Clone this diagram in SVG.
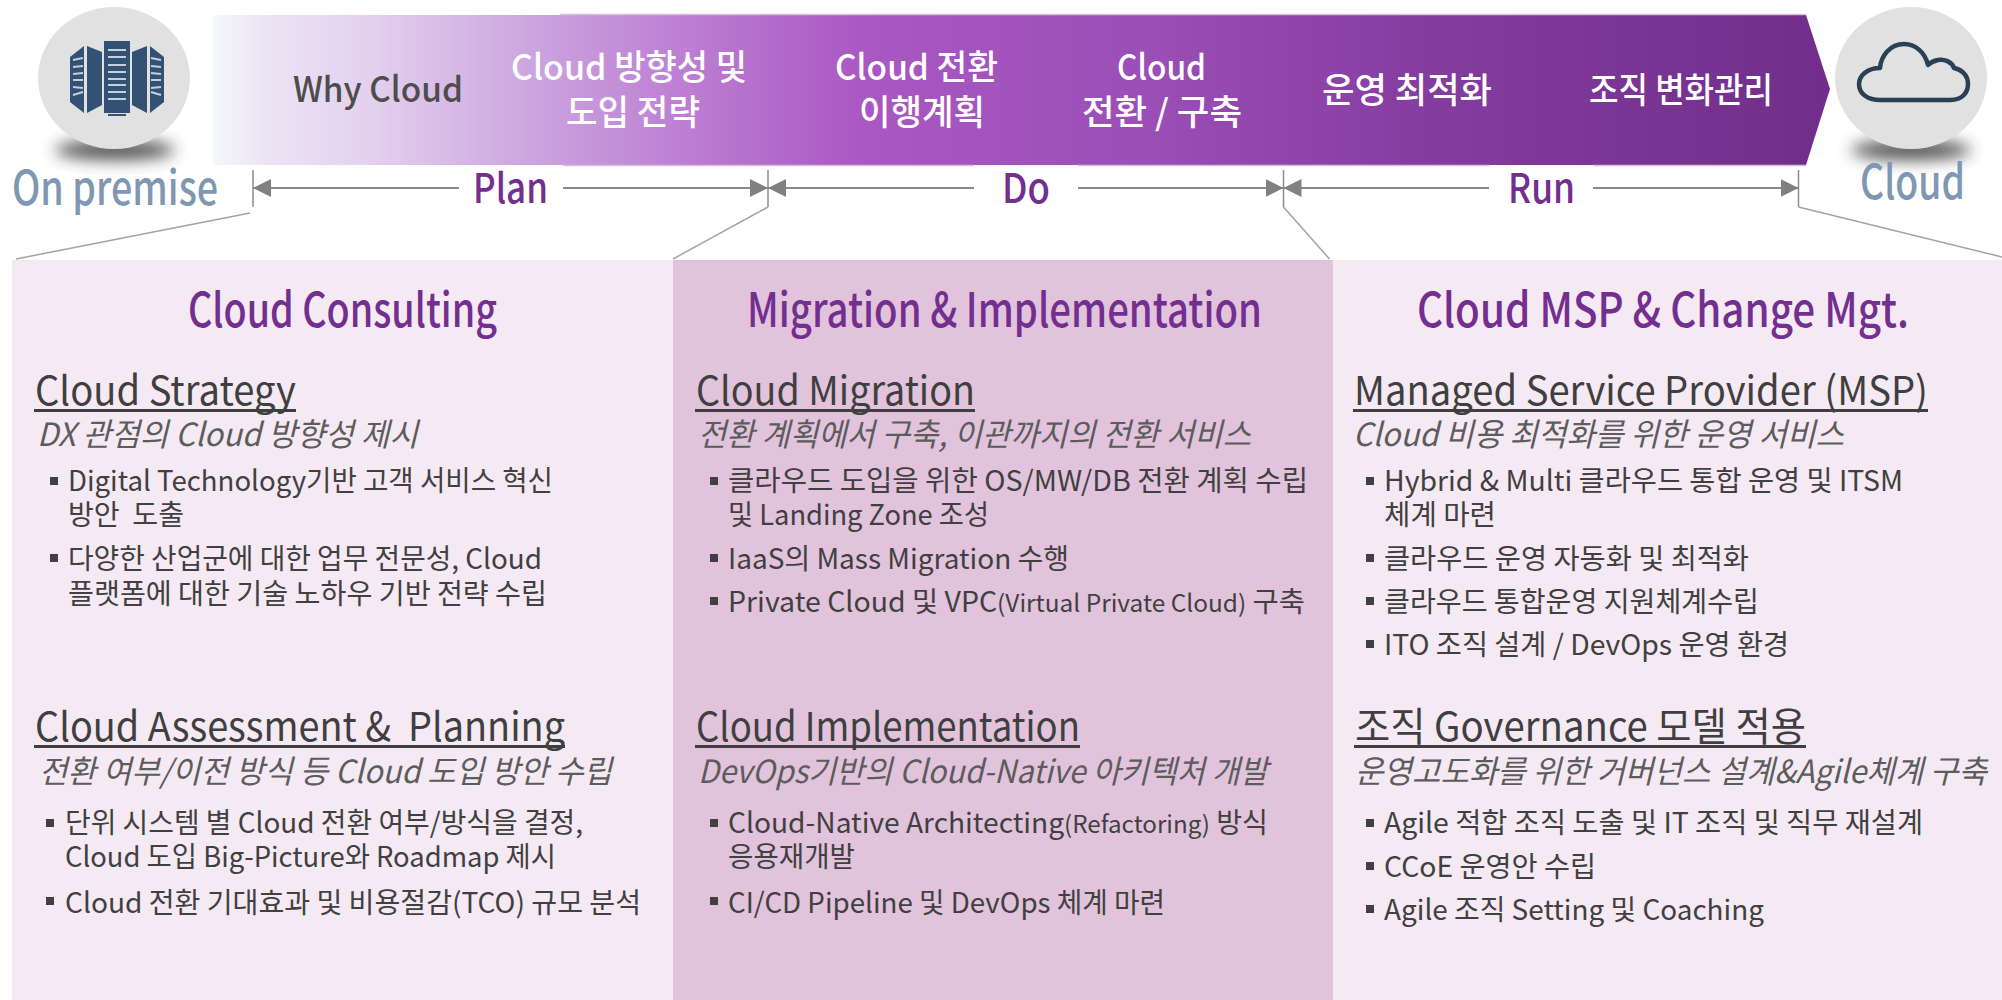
<svg xmlns="http://www.w3.org/2000/svg" width="2002" height="1000" viewBox="0 0 2002 1000">
<style>
text{font-family:"Noto Sans CJK KR","Noto Sans",sans-serif;white-space:pre}
.banner{font-size:35px;fill:#fff;font-weight:500}
.phase{font-size:41px;fill:#722f8f;font-weight:500}
.side{font-size:47px;fill:#7f97b3;font-weight:500}
.title{font-size:47px;fill:#722f8f;font-weight:500}
.head{font-size:40px;fill:#3f3f3f}
.sub{font-size:32px;fill:#5c5c5c;font-style:italic}
.item{font-size:28px;fill:#404040}
.small{font-size:24px}
.ul{fill:#3f3f3f}
.sq{fill:#404040}
.conn{stroke:#a3a3a3;stroke-width:1.5;fill:none}
.dim{stroke:#8a8a8a;stroke-width:2;fill:none}
.tick{stroke:#8c8c8c;stroke-width:1.5;fill:none}
.edge{stroke:#d9bfdf;stroke-width:1.5;fill:none}
.disc{fill:#e1e1e1}
.rack{fill:#335273}
.slat{stroke:#c5d0dc;stroke-width:2;fill:none}
.shadow{fill:#333;opacity:.85}
</style>
<defs>
<linearGradient id="bannerGrad" gradientUnits="userSpaceOnUse" x1="213" y1="0" x2="1830" y2="0">
<stop offset="0" stop-color="#f4f8fc"/>
<stop offset="0.03" stop-color="#ece5f5"/>
<stop offset="0.1" stop-color="#e3cfee"/>
<stop offset="0.2" stop-color="#cba3de"/>
<stop offset="0.3" stop-color="#bb7bd2"/>
<stop offset="0.4" stop-color="#aa58c3"/>
<stop offset="0.58" stop-color="#9a4eb6"/>
<stop offset="0.75" stop-color="#853c9f"/>
<stop offset="1" stop-color="#702e8a"/>
</linearGradient>
<filter id="blur" x="-30%" y="-150%" width="160%" height="400%"><feGaussianBlur stdDeviation="8"/></filter>
<marker id="arr" viewBox="0 0 18 18" refX="18" refY="9" markerWidth="18" markerHeight="18" markerUnits="userSpaceOnUse" orient="auto-start-reverse"><path d="M0 0L18 9L0 18Z" fill="#808080"/></marker>
</defs>
<rect width="2002" height="1000" fill="#fff"/>

<g id="panel-consulting">
<rect x="12" y="260" width="661" height="740" fill="#f5e9f3"/>
<text class="title" x="188" y="327" textLength="309" lengthAdjust="spacingAndGlyphs">Cloud Consulting</text>
<text class="head" x="35" y="405" textLength="261" lengthAdjust="spacingAndGlyphs">Cloud Strategy</text>
<rect class="ul" x="34" y="409" width="262" height="3"/>
<text class="sub" x="37" y="446" textLength="381" lengthAdjust="spacingAndGlyphs">DX 관점의 Cloud 방향성 제시</text>
<rect class="sq" x="50" y="477" width="8" height="8"/>
<text class="item" x="68" y="491" textLength="485" lengthAdjust="spacingAndGlyphs">Digital Technology기반 고객 서비스 혁신</text>
<text class="item" x="68" y="525" textLength="116" lengthAdjust="spacingAndGlyphs">방안  도출</text>
<rect class="sq" x="50" y="554" width="8" height="8"/>
<text class="item" x="68" y="569" textLength="474" lengthAdjust="spacingAndGlyphs">다양한 산업군에 대한 업무 전문성, Cloud</text>
<text class="item" x="68" y="604" textLength="479" lengthAdjust="spacingAndGlyphs">플랫폼에 대한 기술 노하우 기반 전략 수립</text>
<text class="head" x="35" y="741" textLength="530" lengthAdjust="spacingAndGlyphs">Cloud Assessment &amp;  Planning</text>
<rect class="ul" x="34" y="745" width="531" height="3"/>
<text class="sub" x="39" y="783" textLength="573" lengthAdjust="spacingAndGlyphs">전환 여부/이전 방식 등 Cloud 도입 방안 수립</text>
<rect class="sq" x="46" y="819" width="8" height="8"/>
<text class="item" x="65" y="833" textLength="518" lengthAdjust="spacingAndGlyphs">단위 시스템 별 Cloud 전환 여부/방식을 결정,</text>
<text class="item" x="65" y="867" textLength="491" lengthAdjust="spacingAndGlyphs">Cloud 도입 Big-Picture와 Roadmap 제시</text>
<rect class="sq" x="46" y="897" width="8" height="8"/>
<text class="item" x="65" y="913" textLength="576" lengthAdjust="spacingAndGlyphs">Cloud 전환 기대효과 및 비용절감(TCO) 규모 분석</text>
</g>

<g id="panel-migration">
<rect x="673" y="260" width="660" height="740" fill="#e2c3dc"/>
<text class="title" x="747" y="327" textLength="515" lengthAdjust="spacingAndGlyphs">Migration &amp; Implementation</text>
<text class="head" x="696" y="405" textLength="279" lengthAdjust="spacingAndGlyphs">Cloud Migration</text>
<rect class="ul" x="695" y="409" width="280" height="3"/>
<text class="sub" x="698" y="446" textLength="553" lengthAdjust="spacingAndGlyphs">전환 계획에서 구축, 이관까지의 전환 서비스</text>
<rect class="sq" x="710" y="477" width="8" height="8"/>
<text class="item" x="728" y="491" textLength="580" lengthAdjust="spacingAndGlyphs">클라우드 도입을 위한 OS/MW/DB 전환 계획 수립</text>
<text class="item" x="728" y="525" textLength="261" lengthAdjust="spacingAndGlyphs">및 Landing Zone 조성</text>
<rect class="sq" x="710" y="554" width="8" height="8"/>
<text class="item" x="728" y="569" textLength="341" lengthAdjust="spacingAndGlyphs">IaaS의 Mass Migration 수행</text>
<rect class="sq" x="710" y="597" width="8" height="8"/>
<text class="item" x="728" y="612" textLength="577" lengthAdjust="spacingAndGlyphs">Private Cloud 및 VPC<tspan class="small">(Virtual Private Cloud)</tspan> 구축</text>
<text class="head" x="696" y="741" textLength="384" lengthAdjust="spacingAndGlyphs">Cloud Implementation</text>
<rect class="ul" x="695" y="745" width="385" height="3"/>
<text class="sub" x="698" y="783" textLength="570" lengthAdjust="spacingAndGlyphs">DevOps기반의 Cloud-Native 아키텍처 개발</text>
<rect class="sq" x="710" y="819" width="8" height="8"/>
<text class="item" x="728" y="833" textLength="540" lengthAdjust="spacingAndGlyphs">Cloud-Native Architecting<tspan class="small">(Refactoring)</tspan> 방식</text>
<text class="item" x="728" y="867" textLength="127" lengthAdjust="spacingAndGlyphs">응용재개발</text>
<rect class="sq" x="710" y="897" width="8" height="8"/>
<text class="item" x="728" y="913" textLength="437" lengthAdjust="spacingAndGlyphs">CI/CD Pipeline 및 DevOps 체계 마련</text>
</g>

<g id="panel-msp">
<rect x="1333" y="260" width="669" height="740" fill="#f5e9f3"/>
<text class="title" x="1417" y="327" textLength="492" lengthAdjust="spacingAndGlyphs">Cloud MSP &amp; Change Mgt.</text>
<text class="head" x="1354" y="405" textLength="574" lengthAdjust="spacingAndGlyphs">Managed Service Provider (MSP)</text>
<rect class="ul" x="1353" y="409" width="575" height="3"/>
<text class="sub" x="1353" y="446" textLength="491" lengthAdjust="spacingAndGlyphs">Cloud 비용 최적화를 위한 운영 서비스</text>
<rect class="sq" x="1366" y="477" width="8" height="8"/>
<text class="item" x="1384" y="491" textLength="519" lengthAdjust="spacingAndGlyphs">Hybrid &amp; Multi 클라우드 통합 운영 및 ITSM</text>
<text class="item" x="1384" y="525" textLength="112" lengthAdjust="spacingAndGlyphs">체계 마련</text>
<rect class="sq" x="1366" y="554" width="8" height="8"/>
<text class="item" x="1384" y="569" textLength="365" lengthAdjust="spacingAndGlyphs">클라우드 운영 자동화 및 최적화</text>
<rect class="sq" x="1366" y="597" width="8" height="8"/>
<text class="item" x="1384" y="612" textLength="375" lengthAdjust="spacingAndGlyphs">클라우드 통합운영 지원체계수립</text>
<rect class="sq" x="1366" y="640" width="8" height="8"/>
<text class="item" x="1384" y="655" textLength="405" lengthAdjust="spacingAndGlyphs">ITO 조직 설계 / DevOps 운영 환경</text>
<text class="head" x="1355" y="741" textLength="451" lengthAdjust="spacingAndGlyphs">조직 Governance 모델 적용</text>
<rect class="ul" x="1354" y="745" width="452" height="3"/>
<text class="sub" x="1355" y="783" textLength="632" lengthAdjust="spacingAndGlyphs">운영고도화를 위한 거버넌스 설계&amp;Agile체계 구축</text>
<rect class="sq" x="1366" y="819" width="8" height="8"/>
<text class="item" x="1384" y="833" textLength="539" lengthAdjust="spacingAndGlyphs">Agile 적합 조직 도출 및 IT 조직 및 직무 재설계</text>
<rect class="sq" x="1366" y="862" width="8" height="8"/>
<text class="item" x="1384" y="877" textLength="212" lengthAdjust="spacingAndGlyphs">CCoE 운영안 수립</text>
<rect class="sq" x="1366" y="905" width="8" height="8"/>
<text class="item" x="1384" y="920" textLength="380" lengthAdjust="spacingAndGlyphs">Agile 조직 Setting 및 Coaching</text>
</g>

<g id="banner">
<path d="M213 15H1806L1830 89L1806 165H213Z" fill="url(#bannerGrad)"/>
<path class="edge" d="M560 14.500H1806M563 165.500H974M1078 165.500H1489M1593 165.500H1806"/>
<text class="banner" x="293" y="102" textLength="170" lengthAdjust="spacingAndGlyphs" style="fill:#4d4d4d">Why Cloud</text>
<text class="banner" x="511" y="80" textLength="236" lengthAdjust="spacingAndGlyphs">Cloud 방향성 및</text>
<text class="banner" x="566" y="125" textLength="134" lengthAdjust="spacingAndGlyphs">도입 전략</text>
<text class="banner" x="835" y="80" textLength="163" lengthAdjust="spacingAndGlyphs">Cloud 전환</text>
<text class="banner" x="859" y="125" textLength="126" lengthAdjust="spacingAndGlyphs">이행계획</text>
<text class="banner" x="1117" y="80" textLength="89" lengthAdjust="spacingAndGlyphs">Cloud</text>
<text class="banner" x="1082" y="125" textLength="160" lengthAdjust="spacingAndGlyphs">전환 / 구축</text>
<text class="banner" x="1322" y="103" textLength="170" lengthAdjust="spacingAndGlyphs">운영 최적화</text>
<text class="banner" x="1589" y="103" textLength="184" lengthAdjust="spacingAndGlyphs">조직 변화관리</text>
</g>

<g id="connectors">
<path class="tick" d="M253 170V207M768 170V207M1283.500 170V207M1798.500 170V207"/>
<path class="conn" d="M250 213L16 259"/>
<path class="conn" d="M768 207L673 259"/>
<path class="conn" d="M1283.500 207L1329.500 259"/>
<path class="conn" d="M1798.500 207L2002 257"/>
<path class="dim" d="M459 188H253" marker-end="url(#arr)"/>
<path class="dim" d="M563 188H768" marker-end="url(#arr)"/>
<path class="dim" d="M974 188H768" marker-end="url(#arr)"/>
<path class="dim" d="M1078 188H1283.500" marker-end="url(#arr)"/>
<path class="dim" d="M1489 188H1283.500" marker-end="url(#arr)"/>
<path class="dim" d="M1593 188H1798.500" marker-end="url(#arr)"/>
</g>

<g id="phase-plan"><text class="phase" x="473" y="203" textLength="75" lengthAdjust="spacingAndGlyphs">Plan</text></g>
<g id="phase-do"><text class="phase" x="1002" y="203" textLength="48" lengthAdjust="spacingAndGlyphs">Do</text></g>
<g id="phase-run"><text class="phase" x="1508" y="203" textLength="67" lengthAdjust="spacingAndGlyphs">Run</text></g>

<g id="node-on-premise">
<ellipse class="shadow" cx="115" cy="150" rx="60" ry="10" filter="url(#blur)"/>
<ellipse class="disc" cx="114" cy="78" rx="76" ry="71"/>
<path class="rack" d="M104 41H130V113H104ZM70 57L84 46V113L70 102ZM87 46L102 52V105L87 113ZM132 52L147 46V113L132 105ZM150 46L164 57V102L150 113Z"/>
<path class="rack" d="M108 114H126V116H108Z"/>
<path class="slat" d="M108 50H126M108 57H126M108 65H126M108 72H126M108 79H126M108 85H126M108 92H126M108 99H126"/>
<path class="slat" d="M73 60L83 58M73 67L83 66M73 74L83 73M73 80L83 80M73 87L83 88M73 95L83 92M151 58L161 60M151 66L161 67M151 73L161 74M151 80L161 80M151 88L161 87M151 92L161 95"/>
<text class="side" x="12" y="205" textLength="206" lengthAdjust="spacingAndGlyphs">On premise</text>
</g>

<g id="node-cloud">
<ellipse class="shadow" cx="1911" cy="150" rx="60" ry="10" filter="url(#blur)"/>
<ellipse class="disc" cx="1911" cy="78" rx="76" ry="71"/>
<path d="M1880 100H1950C1963 100 1968 92 1968 84C1968 74 1960 69 1954 68C1952 62 1945 59 1938 60C1933 61 1930 63 1928 65C1925 52 1915 44 1904 44C1890 44 1881 56 1880 68C1867 68 1859 76 1859 84C1859 94 1868 100 1880 100Z" fill="none" stroke="#2b3f55" stroke-width="4.500" stroke-linejoin="round"/>
<text class="side" x="1860" y="199" textLength="105" lengthAdjust="spacingAndGlyphs">Cloud</text>
</g>
</svg>
